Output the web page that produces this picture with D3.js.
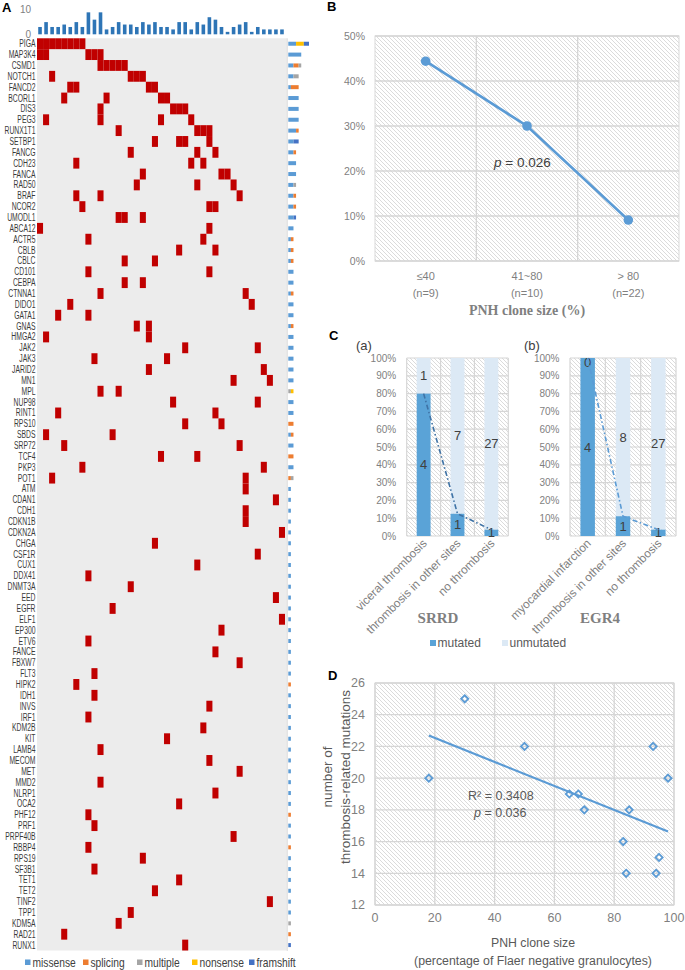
<!DOCTYPE html>
<html><head><meta charset="utf-8">
<script src="https://cdn.jsdelivr.net/npm/d3@7"></script>
<style>body{margin:0;background:#fff;} svg{display:block;}</style>
</head><body>
<svg id="fig" width="685" height="970"></svg>
<script>
// ---------------- DATA ----------------
// Panel A
const genes = ["PIGA","MAP3K4","CSMD1","NOTCH1","FANCD2","BCORL1","DIS3","PEG3","RUNX1T1","SETBP1",
 "FANCG","CDH23","FANCA","RAD50","BRAF","NCOR2","UMODL1","ABCA12","ACTR5","CBLB",
 "CBLC","CD101","CEBPA","CTNNA1","DIDO1","GATA1","GNAS","HMGA2","JAK2","JAK3",
 "JARID2","MN1","MPL","NUP98","RINT1","RPS10","SBDS","SRP72","TCF4","PKP3",
 "POT1","ATM","CDAN1","CDH1","CDKN1B","CDKN2A","CHGA","CSF1R","CUX1","DDX41",
 "DNMT3A","EED","EGFR","ELF1","EP300","ETV6","FANCE","FBXW7","FLT3","HIPK2",
 "IDH1","INVS","IRF1","KDM2B","KIT","LAMB4","MECOM","MET","MMD2","NLRP1",
 "OCA2","PHF12","PRF1","PRPF40B","RBBP4","RPS19","SF3B1","TET1","TET2","TINF2",
 "TPP1","KDM5A","RAD21","RUNX1"];
const nSamples = 41;
// mutated sample (column) indices for each gene, in gene order
const geneMutatedSamples = [
 [0,1,2,3,4,5,6,7],[0,1,8,9,10],[10,11,12,13,14],[2,15,16,17],[5,6,18,19],
 [4,11,20,21],[10,22,23,24],[1,10,20,25],[13,26,27,28],[19,23,24,28],
 [15,26,29],[6,25,27],[17,30,31],[16,26,32],[6,10,33],
 [7,28,29],[13,14,17],[0,28],[8,27],[23,29],
 [14,19],[8,28],[14,17],[10,34],[5,35],
 [3,8],[16,18],[1,18],[24,36],[9,21],
 [18,37],[32,38],[10,13],[22,36],[3,29],
 [24,30],[1,12],[4,33],[20,26],[7,37],
 [2,34],[34],[39],[34],[34],[40],[19],[36],[26],[8],
 [15],[39],[12],[40],[30],[8],[29],[33],[9],[6],
 [9],[28],[8],[27],[21],[10],[28],[33],[10],[29],
 [23],[8],[9],[32],[8],[17],[9],[23],[19],[38],
 [15],[13],[4],[24]];
// number of mutations per sample (top bars)
const sampleMutationCounts = [3,5,3,3,4,3,5,3,9,6,9,2,3,5,4,4,3,5,4,5,3,3,2,5,5,2,5,4,7,6,3,1,3,4,5,1,3,2,2,2,2];
const yTickTop = [0,10];
// mutation types per gene (stacked bars on the right)
const typeNames = ["missense","splicing","multiple","nonsense","framshift"];
const typeColors = ["#5b9bd5","#ed7d31","#a5a5a5","#ffc000","#4472c4"];
const missenseCounts = [3,5,2,2,1,4,4,4,3,2, 2,3,3,2,2,2,2,2,1,1, 1,2,2,1,2,2,1,2,2,2,
 2,2,0,2,2,0,1,2,0,2, 0,1,1,1,1,1,1,1,1,1, 1,1,1,1,1,1,1,1,1,0, 1,1,1,1,1,1,1,1,1,1,
 1,0,1,1,0,1,1,1,1,1, 1,0,0,0];
const splicingCounts = {CSMD1:2,FANCD2:3,RUNX1T1:1,FANCG:1,BRAF:1,NCOR2:1,ACTR5:1,CBLB:1,CBLC:1,CTNNA1:1,
 GNAS:1,RPS10:2,SBDS:1,TCF4:2,POT1:1,HIPK2:1,PHF12:1,RBBP4:1,RAD21:1};
const multipleCounts = {CSMD1:1,NOTCH1:2,RAD50:1,MPL:1,POT1:1,KDM5A:1};
const nonsenseCounts = {PIGA:3,MPL:1};
const framshiftCounts = {PIGA:2,SETBP1:2,UMODL1:1,RUNX1:1};

// Panel B
const pnhGroups = ["\u226440","41~80","> 80"];
const pnhGroupN = ["(n=9)","(n=10)","(n=22)"];
const pnhThrombosisRate = [0.444,0.30,0.091];
const pctTicksB = [0,0.1,0.2,0.3,0.4,0.5];

// Panel C
const srrdCategories = ["viceral thrombosis","thrombosis in other sites","no thrombosis"];
const srrdMutated = [4,1,1];
const srrdUnmutated = [1,7,27];
const egr4Categories = ["myocardial infarction","thrombosis in other sites","no thrombosis"];
const egr4Mutated = [4,1,1];
const egr4Unmutated = [0,8,27];
const pctTicksC = [0,0.1,0.2,0.3,0.4,0.5,0.6,0.7,0.8,0.9,1.0];

// Panel D
const cloneSize = [18,30,50,65,68,70,85,83,84,93,95,94,98];
const thrombosisMutations = [20,25,22,19,19,18,18,16,14,22,15,14,20];
const xTicksD = [0,20,40,60,80,100];
const yTicksD = [12,14,16,18,20,22,24,26];

// ---------------- DRAW ----------------
const svg = d3.select("#fig");
const SANS = "'Liberation Sans', Arial, sans-serif";
const SERIF = "'Liberation Serif','Times New Roman',serif";
const TICK = "#7f7f7f";

const defs = svg.append("defs");
const pat = defs.append("pattern").attr("id","hatch").attr("width",4).attr("height",4)
  .attr("patternUnits","userSpaceOnUse");
pat.append("rect").attr("width",4).attr("height",4).attr("fill","#ffffff");
pat.append("path").attr("d","M-1,-1L5,5M3,-1L5,1M-1,3L1,5").attr("stroke","#d2d2d2").attr("stroke-width",0.8);

function label(t,x,y){
  svg.append("text").attr("x",x).attr("y",y).text(t)
    .attr("font-family",SANS).attr("font-weight","bold").attr("font-size",13).attr("fill","#000");
}

// ===== Panel A =====
label("A",2,12);
const xA = d3.scaleBand().domain(d3.range(nSamples)).range([37,285]);
const yA = d3.scaleBand().domain(genes).range([38.3,950.5]);
const gA = svg.append("g");
gA.append("rect").attr("x",37).attr("y",38.3).attr("width",250).attr("height",912.2).attr("fill","#ececec");
gA.append("line").attr("x1",287.3).attr("x2",287.3).attr("y1",38.3).attr("y2",951).attr("stroke","#d4d4d4").attr("stroke-width",0.8);

const cells = [];
geneMutatedSamples.forEach((cols,gi)=>cols.forEach(c=>cells.push({gene:genes[gi],col:c})));
gA.selectAll("rect.cell").data(cells).join("rect").attr("class","cell")
  .attr("x",d=>xA(d.col)).attr("y",d=>yA(d.gene))
  .attr("width",xA.bandwidth()).attr("height",yA.bandwidth()).attr("fill","#c00000");

gA.selectAll("text.gene").data(genes).join("text").attr("class","gene")
  .attr("transform",d=>`translate(35.5,${yA(d)+yA.bandwidth()/2}) scale(0.68,1)`).attr("dy","0.35em")
  .attr("text-anchor","end").attr("font-family",SANS).attr("font-size",10).attr("fill","#3a3a3a")
  .text(d=>d);

// top bar chart
const yTop = d3.scaleLinear().domain([0,10]).range([34.3,9.9]);
gA.selectAll("rect.topbar").data(sampleMutationCounts).join("rect").attr("class","topbar")
  .attr("x",(d,i)=>xA(i)+(xA.bandwidth()-3.6)/2).attr("width",3.6)
  .attr("y",d=>yTop(d)).attr("height",d=>yTop(0)-yTop(d)).attr("fill","#2e75b6");
gA.selectAll("text.toptick").data(yTickTop).join("text").attr("class","toptick")
  .attr("x",31).attr("y",d=>yTop(d)).attr("dy","0.35em").attr("text-anchor","end")
  .attr("font-family",SANS).attr("font-size",10).attr("fill",TICK).text(d=>d);

// right stacked mutation-type bars
const xR = d3.scaleLinear().domain([0,8]).range([288.3,309]);
const typeData = genes.map((g,i)=>[missenseCounts[i],splicingCounts[g]||0,multipleCounts[g]||0,
  nonsenseCounts[g]||0,framshiftCounts[g]||0]);
typeData.forEach((arr,gi)=>{
  let acc=0;
  arr.forEach((v,ti)=>{
    if(v>0){
      gA.append("rect").attr("x",xR(acc)).attr("width",xR(acc+v)-xR(acc))
        .attr("y",yA(genes[gi])+yA.bandwidth()/2-2).attr("height",4).attr("fill",typeColors[ti]);
    }
    acc+=v;
  });
});
// legend
const legX = [25,83,137,192,249];
typeNames.forEach((t,i)=>{
  gA.append("rect").attr("x",legX[i]).attr("y",959.5).attr("width",5.5).attr("height",5.5).attr("fill",typeColors[i]);
  gA.append("text").attr("transform",`translate(${legX[i]+7.5},962.5) scale(0.8,1)`).attr("dy","0.35em")
    .attr("font-family",SANS).attr("font-size",12.8).attr("fill","#404040").text(t);
});

// ===== Panel B =====
label("B",327,11);
const xB = d3.scaleBand().domain(pnhGroups).range([375,679]);
const yB = d3.scaleLinear().domain([0,0.5]).range([261,36]);
const gB = svg.append("g");
gB.append("rect").attr("x",375).attr("y",36).attr("width",304).attr("height",225).attr("fill","url(#hatch)")
  .attr("stroke","#d9d9d9").attr("stroke-width",1);
gB.selectAll("line.hg").data(pctTicksB).join("line").attr("class","hg")
  .attr("x1",375).attr("x2",679).attr("y1",d=>yB(d)).attr("y2",d=>yB(d))
  .attr("stroke","#d6d6d6").attr("stroke-width",1.3);
gB.selectAll("line.vg").data(pnhGroups.slice(1)).join("line").attr("class","vg")
  .attr("x1",d=>xB(d)).attr("x2",d=>xB(d)).attr("y1",36).attr("y2",261)
  .attr("stroke","#d6d6d6").attr("stroke-width",1.3);
gB.selectAll("text.yt").data(pctTicksB).join("text").attr("class","yt")
  .attr("x",365).attr("y",d=>yB(d)).attr("dy","0.35em").attr("text-anchor","end")
  .attr("font-family",SANS).attr("font-size",10.5).attr("fill",TICK).text(d=>d3.format(".0%")(d));
gB.selectAll("text.xt").data(pnhGroups).join("text").attr("class","xt")
  .attr("x",d=>xB(d)+xB.bandwidth()/2).attr("y",280).attr("text-anchor","middle")
  .attr("font-family",SANS).attr("font-size",11).attr("fill",TICK).text(d=>d);
gB.selectAll("text.xn").data(pnhGroupN).join("text").attr("class","xn")
  .attr("x",(d,i)=>xB(pnhGroups[i])+xB.bandwidth()/2).attr("y",297).attr("text-anchor","middle")
  .attr("font-family",SANS).attr("font-size",11).attr("fill",TICK).text(d=>d);
const lineB = d3.line().x((d,i)=>xB(pnhGroups[i])+xB.bandwidth()/2).y(d=>yB(d));
gB.append("path").attr("d",lineB(pnhThrombosisRate)).attr("fill","none").attr("stroke","#5b9bd5").attr("stroke-width",2.6);
gB.selectAll("circle").data(pnhThrombosisRate).join("circle")
  .attr("cx",(d,i)=>xB(pnhGroups[i])+xB.bandwidth()/2).attr("cy",d=>yB(d)).attr("r",4.8).attr("fill","#5b9bd5");
const pB = gB.append("text").attr("x",494).attr("y",167).attr("font-family",SANS).attr("font-size",13.5).attr("fill","#404040");
pB.append("tspan").attr("font-style","italic").text("p");
pB.append("tspan").text(" = 0.026");
gB.append("text").attr("x",527).attr("y",315).attr("text-anchor","middle").attr("font-family",SERIF)
  .attr("font-weight","bold").attr("font-size",14).attr("fill","#7f7f7f").text("PNH clone size (%)");

// ===== Panel C =====
label("C",329,340);
function stacked(cfg){
  const g = svg.append("g");
  const x = d3.scaleBand().domain(cfg.cats).range([cfg.x0,cfg.x1]);
  const y = d3.scaleLinear().domain([0,1]).range([536,358]);
  g.append("rect").attr("x",cfg.x0).attr("y",358).attr("width",cfg.x1-cfg.x0).attr("height",178).attr("fill","url(#hatch)");
  g.selectAll("line.hg").data(pctTicksC).join("line").attr("class","hg")
    .attr("x1",cfg.x0).attr("x2",cfg.x1).attr("y1",d=>y(d)).attr("y2",d=>y(d))
    .attr("stroke","#d6d6d6").attr("stroke-width",1.2);
  g.selectAll("line.vg").data([...cfg.cats.map(c=>x(c)),cfg.x1]).join("line").attr("class","vg")
    .attr("x1",d=>d).attr("x2",d=>d).attr("y1",358).attr("y2",536).attr("stroke","#d6d6d6").attr("stroke-width",1.2);
  g.selectAll("text.yt").data(pctTicksC).join("text").attr("class","yt")
    .attr("x",cfg.x0-10.5).attr("y",d=>y(d)).attr("dy","0.35em").attr("text-anchor","end")
    .attr("font-family",SANS).attr("font-size",10).attr("fill",TICK).text(d=>d3.format(".0%")(d));
  const bw = x.bandwidth()*0.41;
  const rows = cfg.cats.map((c,i)=>{const t=cfg.mut[i]+cfg.unmut[i];return {c,m:cfg.mut[i],u:cfg.unmut[i],pm:cfg.mut[i]/t};});
  rows.forEach(r=>{
    const cx = x(r.c)+x.bandwidth()/2;
    g.append("rect").attr("x",cx-bw/2).attr("width",bw).attr("y",y(1)).attr("height",y(r.pm)-y(1)).attr("fill","#dce9f5");
    g.append("rect").attr("x",cx-bw/2).attr("width",bw).attr("y",y(r.pm)).attr("height",y(0)-y(r.pm)).attr("fill","#5aa3d7");
    g.append("text").attr("x",cx).attr("y",Math.max(y((1+r.pm)/2),362)).attr("dy","0.35em").attr("text-anchor","middle")
      .attr("font-family",SANS).attr("font-size",13).attr("fill","#404040").text(r.u);
    g.append("text").attr("x",cx).attr("y",Math.min(y(r.pm/2),533)).attr("dy","0.35em").attr("text-anchor","middle")
      .attr("font-family",SANS).attr("font-size",13).attr("fill","#404040").text(r.m);
  });
  const ln = d3.line().x(r=>x(r.c)+x.bandwidth()/2).y(r=>y(r.pm));
  g.append("path").attr("d",ln(rows)).attr("fill","none").attr("stroke",cfg.lineColor)
    .attr("stroke-width",1.6).attr("stroke-dasharray","5,2.5,1.5,2.5");
  g.selectAll("text.xl").data(cfg.cats).join("text").attr("class","xl")
    .attr("transform",d=>`translate(${x(d)+x.bandwidth()/2+4},544) rotate(-45)`)
    .attr("text-anchor","end").attr("font-family",SANS).attr("font-size",11.8).attr("fill",TICK).text(d=>d);
  g.append("text").attr("x",cfg.titleX).attr("y",623).attr("text-anchor","middle").attr("font-family",SERIF)
    .attr("font-weight","bold").attr("font-size",15).attr("fill","#7f7f7f").text(cfg.title);
  g.append("text").attr("x",cfg.tagX).attr("y",350).attr("font-family",SANS).attr("font-size",13)
    .attr("fill","#404040").text(cfg.tag);
}
stacked({cats:srrdCategories,mut:srrdMutated,unmut:srrdUnmutated,x0:406.7,x1:508.3,
  lineColor:"#3f73a6",title:"SRRD",titleX:438,tag:"(a)",tagX:356});
stacked({cats:egr4Categories,mut:egr4Mutated,unmut:egr4Unmutated,x0:570,x1:676,
  lineColor:"#5b9bd5",title:"EGR4",titleX:600,tag:"(b)",tagX:524});
// legend C
[["mutated","#5aa3d7",430],["unmutated","#dce9f5",502]].forEach(([t,c,x])=>{
  svg.append("rect").attr("x",x).attr("y",640).attr("width",6).attr("height",6).attr("fill",c);
  svg.append("text").attr("x",x+7.5).attr("y",643).attr("dy","0.35em").attr("font-family",SANS)
    .attr("font-size",12).attr("fill","#595959").text(t);
});

// ===== Panel D =====
label("D",328,680);
const xD = d3.scaleLinear().domain([0,100]).range([375,674]);
const yD = d3.scaleLinear().domain([12,26]).range([905,683]);
const gD = svg.append("g");
gD.append("rect").attr("x",375).attr("y",683).attr("width",299).attr("height",222).attr("fill","url(#hatch)")
  .attr("stroke","#d9d9d9");
gD.selectAll("line.hg").data(yTicksD).join("line").attr("class","hg")
  .attr("x1",375).attr("x2",674).attr("y1",d=>yD(d)).attr("y2",d=>yD(d)).attr("stroke","#d6d6d6").attr("stroke-width",1.3);
gD.selectAll("line.vg").data(xTicksD).join("line").attr("class","vg")
  .attr("x1",d=>xD(d)).attr("x2",d=>xD(d)).attr("y1",683).attr("y2",905).attr("stroke","#d6d6d6").attr("stroke-width",1.3);
gD.selectAll("text.yt").data(yTicksD).join("text").attr("class","yt")
  .attr("x",365).attr("y",d=>yD(d)).attr("dy","0.35em").attr("text-anchor","end")
  .attr("font-family",SANS).attr("font-size",12.5).attr("fill",TICK).text(d=>d);
gD.selectAll("text.xt").data(xTicksD).join("text").attr("class","xt")
  .attr("x",d=>xD(d)).attr("y",918).attr("dy","0.35em").attr("text-anchor","middle")
  .attr("font-family",SANS).attr("font-size",12.5).attr("fill",TICK).text(d=>d);
// regression trendline computed from the points
const mx = d3.mean(cloneSize), my = d3.mean(thrombosisMutations);
const sxy = d3.sum(cloneSize.map((v,i)=>(v-mx)*(thrombosisMutations[i]-my)));
const sxx = d3.sum(cloneSize.map(v=>(v-mx)*(v-mx)));
const slope = sxy/sxx, icpt = my-slope*mx;
const [xmin,xmax] = d3.extent(cloneSize);
gD.append("line").attr("x1",xD(xmin)).attr("y1",yD(icpt+slope*xmin)).attr("x2",xD(xmax)).attr("y2",yD(icpt+slope*xmax))
  .attr("stroke","#5b9bd5").attr("stroke-width",2.2);
gD.selectAll("path.pt").data(cloneSize).join("path").attr("class","pt")
  .attr("transform",(d,i)=>`translate(${xD(d)},${yD(thrombosisMutations[i])})`)
  .attr("d","M0,-3.6L3.6,0L0,3.6L-3.6,0Z").attr("fill","none").attr("stroke","#5b9bd5").attr("stroke-width",1.8);
gD.append("text").attr("x",468).attr("y",796).attr("dy","0.35em").attr("font-family",SANS).attr("font-size",12.5)
  .attr("fill","#595959").text("R\u00b2 = 0.3408");
const pD = gD.append("text").attr("x",474).attr("y",813).attr("dy","0.35em").attr("font-family",SANS)
  .attr("font-size",12.5).attr("fill","#595959");
pD.append("tspan").attr("font-style","italic").text("p");
pD.append("tspan").text(" = 0.036");
gD.append("text").attr("transform","translate(332,777) rotate(-90)").attr("text-anchor","middle")
  .attr("font-family",SANS).attr("font-size",13.5).attr("fill","#595959").text("number of");
gD.append("text").attr("transform","translate(350,777) rotate(-90)").attr("text-anchor","middle")
  .attr("font-family",SANS).attr("font-size",13.5).attr("fill","#595959").text("thrombosis-related mutations");
gD.append("text").attr("x",533).attr("y",947).attr("text-anchor","middle")
  .attr("font-family",SANS).attr("font-size",12.3).attr("fill","#595959").text("PNH clone size");
gD.append("text").attr("x",533).attr("y",965).attr("text-anchor","middle")
  .attr("font-family",SANS).attr("font-size",12.3).attr("fill","#595959").text("(percentage of Flaer negative granulocytes)");
</script>
</body></html>
